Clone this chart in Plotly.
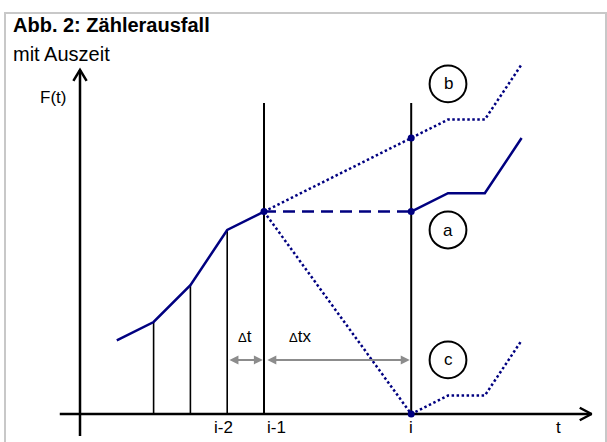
import plotly.graph_objects as go

# ---- data (time steps and F(t) values) ----
hist_t = [1, 2, 3, 4, 5]
hist_F = [2.0, 2.5, 3.5, 5.0, 5.5]

gap_t = [5, 9]
gap_F = [5.5, 5.5]

a_t = [9, 10, 11, 12]
a_F = [5.5, 6.0, 6.0, 7.5]

b_t = [5, 9, 10, 11, 12]
b_F = [5.5, 7.5, 8.0, 8.0, 9.5]

c_t = [5, 9, 10, 11, 12]
c_F = [5.5, 0.0, 0.5, 0.5, 2.0]

marker_t = [5, 9, 9, 9]
marker_F = [5.5, 5.5, 7.5, 0.0]

small_vert_t = [2, 3, 4]
small_vert_top = [2.5, 3.5, 5.0]
big_vert_t = [5, 9]
big_vert_top = 8.45

tick_labels = ["i-2", "i-1", "i"]
tick_pos = [3.9, 5.03, 9]
circle_labels = ["b", "a", "c"]
circle_F = [8.97, 5.0, 1.47]
circle_t = 10

NAVY = "#000080"
FONT = "Liberation Sans, Arial, sans-serif"

W, H = 607, 442
PX = 36.8          # pixels per data unit
X0PX, Y0PX = 80, 414

fig = go.Figure()

# axes
fig.add_trace(go.Scatter(x=[-0.55, 13.9], y=[0, 0], mode="lines",
                         line=dict(color="black", width=2.5), hoverinfo="skip"))
fig.add_trace(go.Scatter(x=[0, 0], y=[-0.6, 9.35], mode="lines",
                         line=dict(color="black", width=2.5), hoverinfo="skip"))
# arrowheads (open chevrons)
fig.add_trace(go.Scatter(x=[-0.18, 0, 0.18], y=[9.05, 9.35, 9.05], mode="lines",
                         line=dict(color="black", width=2.5), hoverinfo="skip"))
fig.add_trace(go.Scatter(x=[13.58, 13.9, 13.58], y=[0.17, 0, -0.17], mode="lines",
                         line=dict(color="black", width=2.5), hoverinfo="skip"))

# vertical lines
for tt, top in zip(small_vert_t, small_vert_top):
    fig.add_trace(go.Scatter(x=[tt, tt], y=[0, top], mode="lines",
                             line=dict(color="black", width=1.6), hoverinfo="skip"))
for tt in big_vert_t:
    fig.add_trace(go.Scatter(x=[tt, tt], y=[0, big_vert_top], mode="lines",
                             line=dict(color="black", width=2), hoverinfo="skip"))

# curves
fig.add_trace(go.Scatter(x=hist_t, y=hist_F, mode="lines",
                         line=dict(color=NAVY, width=2.5)))
fig.add_trace(go.Scatter(x=gap_t, y=gap_F, mode="lines",
                         line=dict(color=NAVY, width=2.5, dash="12px,7px")))
fig.add_trace(go.Scatter(x=a_t, y=a_F, mode="lines",
                         line=dict(color=NAVY, width=2.5)))
fig.add_trace(go.Scatter(x=b_t, y=b_F, mode="lines",
                         line=dict(color=NAVY, width=2.5, dash="2.5px,2.5px")))
fig.add_trace(go.Scatter(x=c_t, y=c_F, mode="lines",
                         line=dict(color=NAVY, width=2.5, dash="2.5px,2.5px")))
fig.add_trace(go.Scatter(x=marker_t, y=marker_F, mode="markers",
                         marker=dict(color=NAVY, size=7)))

# circles with letters
for lab, fy in zip(circle_labels, circle_F):
    fig.add_shape(type="circle", xref="x", yref="y",
                  x0=circle_t - 0.5, x1=circle_t + 0.5, y0=fy - 0.5, y1=fy + 0.5,
                  line=dict(color="black", width=2))
    fig.add_annotation(x=circle_t, y=fy, text=lab, showarrow=False,
                       font=dict(family=FONT, size=17, color="black"))

# gray double arrows
for xa, xb in [(4.02, 4.97), (5.05, 8.96)]:
    fig.add_annotation(x=xb, y=1.47, ax=xa, ay=1.47, xref="x", yref="y",
                       axref="x", ayref="y", text="", showarrow=True,
                       arrowhead=2, startarrowhead=2, arrowside="end+start",
                       arrowsize=0.9, startarrowsize=0.9,
                       arrowwidth=2, arrowcolor="#8c8c8c")
fig.add_annotation(x=4.48, y=2.1, text="<span style='font-size:13px'>Δ</span>t",
                   showarrow=False, font=dict(family=FONT, size=17, color="black"))
fig.add_annotation(x=5.98, y=2.1, text="<span style='font-size:13px'>Δ</span>tx",
                   showarrow=False, font=dict(family=FONT, size=17, color="black"))

# tick labels
for lab, pos in zip(tick_labels, tick_pos):
    fig.add_annotation(x=pos, y=-0.36, text=lab, showarrow=False,
                       xanchor="left" if lab == "i-1" else "center",
                       font=dict(family=FONT, size=17, color="black"))
fig.add_annotation(x=13.0, y=-0.36, text="t", showarrow=False,
                   font=dict(family=FONT, size=17, color="black"))
fig.add_annotation(x=-0.73, y=8.6, text="F(t)", showarrow=False,
                   font=dict(family=FONT, size=17, color="black"))

# title texts
fig.add_annotation(xref="paper", yref="paper", x=11 / W, y=1 - 25 / H,
                   xanchor="left", yanchor="middle", showarrow=False,
                   text="<b>Abb. 2: Zählerausfall</b>",
                   font=dict(family=FONT, size=20, color="black"))
fig.add_annotation(xref="paper", yref="paper", x=11 / W, y=1 - 54 / H,
                   xanchor="left", yanchor="middle", showarrow=False,
                   text="mit Auszeit",
                   font=dict(family=FONT, size=20, color="black"))

# frame
fig.add_shape(type="rect", xref="paper", yref="paper",
              x0=5 / W, x1=606 / W, y0=-0.05, y1=1 - 13 / H,
              line=dict(color="#c8c8c8", width=2))

fig.update_layout(
    width=W, height=H,
    margin=dict(l=0, r=0, t=0, b=0),
    paper_bgcolor="white", plot_bgcolor="white",
    showlegend=False,
    hovermode=False,
    xaxis=dict(range=[-X0PX / PX, (W - X0PX) / PX], visible=False, fixedrange=True),
    yaxis=dict(range=[-(H - Y0PX) / PX, Y0PX / PX], visible=False, fixedrange=True),
)

fig.write_html("out.html", config={"displayModeBar": False},
               post_script="document.body.style.margin='0';document.body.style.overflow='hidden';")
